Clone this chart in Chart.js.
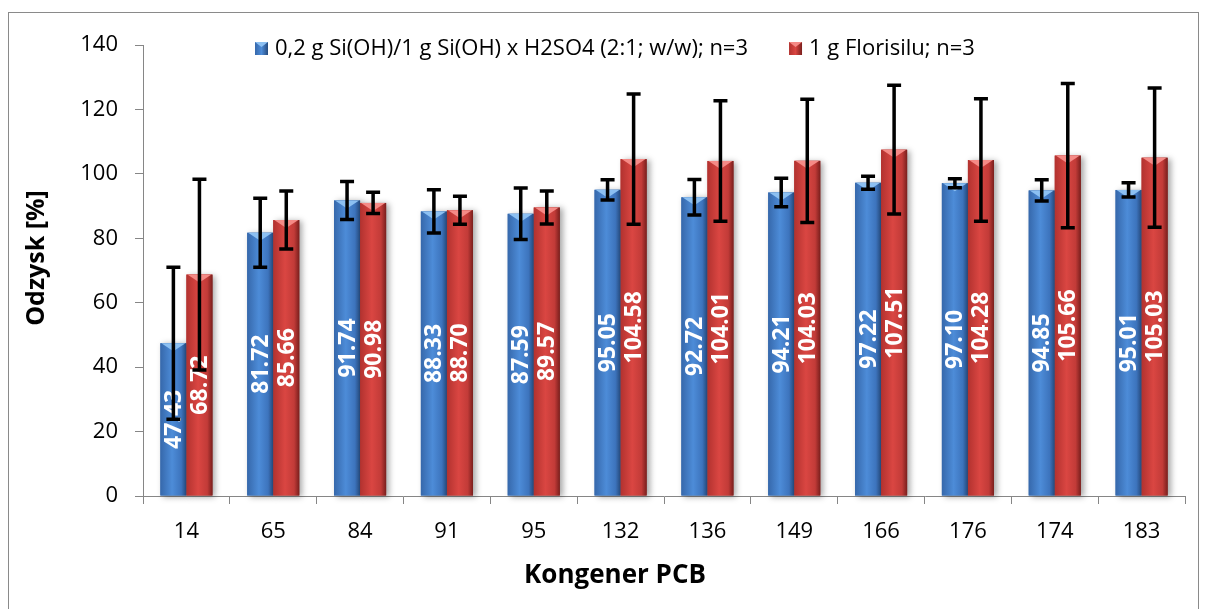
<!DOCTYPE html>
<html>
<head>
<meta charset="utf-8">
<script src="https://cdn.jsdelivr.net/npm/chart.js@4/dist/chart.umd.min.js"></script>
<style>
html,body{margin:0;padding:0;background:#fff;}
#wrap{width:1206px;height:609px;position:relative;}
</style>
</head>
<body>
<div id="wrap"><canvas id="c" width="1206" height="609"></canvas></div>
<script>
const categories = ['14','65','84','91','95','132','136','149','166','176','174','183'];
const seriesNames = ['0,2 g Si(OH)/1 g Si(OH) x H2SO4 (2:1; w/w); n=3', '1 g Florisilu; n=3'];
const blueValues = [47.43, 81.72, 91.74, 88.33, 87.59, 95.05, 92.72, 94.21, 97.22, 97.10, 94.85, 95.01];
const redValues  = [68.72, 85.66, 90.98, 88.70, 89.57, 104.58, 104.01, 104.03, 107.51, 104.28, 105.66, 105.03];
const blueErrors = [23.6, 10.7, 5.9, 6.7, 8.0, 3.15, 5.5, 4.4, 2.0, 1.4, 3.3, 2.2];
const redErrors  = [29.6, 9.0, 3.3, 4.35, 5.1, 20.2, 18.7, 19.1, 20.0, 19.0, 22.4, 21.6];
const yTicks = [0, 20, 40, 60, 80, 100, 120, 140];
const xTitle = 'Kongener PCB';
const yTitle = 'Odzysk [%]';

const FONT = "'Open Sans', 'Noto Sans', sans-serif";
const palettes = [
  {edgeL:'#3668ab', mid:'#4d8cd8', mid2:'#3d74bd', edgeR:'#264b7e', top:'#8cc0f2', base:'#3f78c2'},
  {edgeL:'#b2322f', mid:'#da4642', mid2:'#c23b38', edgeR:'#7a1f1d', top:'#f58a86', base:'#c63a37'}
];
const errorSets = [blueErrors, redErrors];

function barGradient(ctx, x0, x1, p){
  const g = ctx.createLinearGradient(x0, 0, x1, 0);
  g.addColorStop(0, p.edgeL);
  g.addColorStop(0.45, p.mid);
  g.addColorStop(0.8, p.mid2);
  g.addColorStop(1, p.edgeR);
  return g;
}

const decor = {
  id:'decor',
  beforeDraw(chart){
    const ctx = chart.ctx;
    ctx.save();
    ctx.fillStyle = '#fff';
    ctx.fillRect(0,0,chart.width,chart.height);
    ctx.strokeStyle = '#8a8a8a';
    ctx.lineWidth = 1;
    ctx.strokeRect(8.5, 12.5, 1190, 640);
    ctx.restore();
  },
  afterDatasetsDraw(chart){
    const ctx = chart.ctx;
    const y = chart.scales.y;
    chart.data.datasets.forEach((ds, di) => {
      const meta = chart.getDatasetMeta(di);
      const p = palettes[di];
      meta.data.forEach(el => {
        const w = el.width, x0 = el.x - w/2, x1 = el.x + w/2, top = el.y, bot = el.base;
        ctx.save();
        ctx.shadowColor = 'rgba(0,0,0,0.35)';
        ctx.shadowBlur = 6; ctx.shadowOffsetX = 3; ctx.shadowOffsetY = 1;
        ctx.fillStyle = barGradient(ctx, x0, x1, p);
        ctx.fillRect(x0, top, w, bot - top);
        ctx.restore();
        ctx.save();
        ctx.fillStyle = p.top;
        ctx.beginPath();
        ctx.moveTo(x0 + 1, top);
        ctx.lineTo(x1 - 1, top);
        ctx.lineTo(el.x, top + 8);
        ctx.closePath();
        ctx.fill();
        ctx.restore();
      });
    });
    chart.data.datasets.forEach((ds, di) => {
      const meta = chart.getDatasetMeta(di);
      meta.data.forEach((el, i) => {
        ctx.save();
        ctx.translate(el.x + 1, (el.y + el.base)/2);
        ctx.rotate(-Math.PI/2);
        ctx.fillStyle = '#fff';
        ctx.font = "bold 23px " + FONT;
        ctx.textAlign = 'center';
        ctx.textBaseline = 'middle';
        ctx.fillText(ds.data[i].toFixed(2), 0, 0);
        ctx.restore();
      });
    });
    chart.data.datasets.forEach((ds, di) => {
      const meta = chart.getDatasetMeta(di);
      const errs = errorSets[di];
      meta.data.forEach((el, i) => {
        const v = ds.data[i], e = errs[i];
        const yt = y.getPixelForValue(v + e), yb = y.getPixelForValue(v - e);
        ctx.save();
        ctx.strokeStyle = '#000';
        ctx.lineWidth = 3.5;
        ctx.beginPath();
        ctx.moveTo(el.x, yt); ctx.lineTo(el.x, yb);
        ctx.moveTo(el.x - 7, yt); ctx.lineTo(el.x + 7, yt);
        ctx.moveTo(el.x - 7, yb); ctx.lineTo(el.x + 7, yb);
        ctx.stroke();
        ctx.restore();
      });
    });
  },
  afterDraw(chart){
    const ctx = chart.ctx;
    ctx.save();
    ctx.font = "22px " + FONT;
    ctx.textBaseline = 'middle';
    let x = 255;
    const yc = 49;
    chart.data.datasets.forEach((ds, di) => {
      const p = palettes[di];
      const g = ctx.createLinearGradient(x, 0, x + 13, 0);
      g.addColorStop(0, p.edgeL); g.addColorStop(0.5, p.mid); g.addColorStop(1, p.edgeR);
      ctx.fillStyle = g;
      ctx.fillRect(x, yc - 7, 13, 13);
      ctx.fillStyle = p.top;
      ctx.beginPath(); ctx.moveTo(x, yc - 7); ctx.lineTo(x + 13, yc - 7); ctx.lineTo(x + 6.5, yc - 2); ctx.closePath(); ctx.fill();
      ctx.fillStyle = '#000';
      ctx.fillText(ds.label, x + 20, yc);
      x += 20 + ctx.measureText(ds.label).width + 41;
    });
    ctx.font = "bold 26px " + FONT;
    ctx.textAlign = 'center';
    ctx.textBaseline = 'middle';
    ctx.fillText(xTitle, 615, 576);
    ctx.save();
    ctx.translate(37, 258);
    ctx.rotate(-Math.PI/2);
    ctx.font = "bold 25px " + FONT;
    ctx.fillText(yTitle, 0, 0);
    ctx.restore();
    ctx.restore();
  }
};

new Chart(document.getElementById('c'), {
  type: 'bar',
  data: {
    labels: categories,
    datasets: [
      {label: seriesNames[0], data: blueValues, backgroundColor: palettes[0].base, categoryPercentage: 0.6, barPercentage: 1},
      {label: seriesNames[1], data: redValues, backgroundColor: palettes[1].base, categoryPercentage: 0.6, barPercentage: 1}
    ]
  },
  options: {
    responsive: false,
    animation: false,
    layout: {padding: {left: 0, right: 21, top: 45, bottom: 14}},
    plugins: {legend: {display: false}, tooltip: {enabled: false}},
    scales: {
      x: {
        grid: {display: true, drawOnChartArea: false, tickLength: 8, color: '#868686'},
        border: {color: '#868686'},
        ticks: {font: {family: FONT, size: 22}, color: '#000', padding: 15, maxRotation: 0},
        afterFit(s){ s.height = 99; }
      },
      y: {
        min: 0, max: 140,
        afterBuildTicks(s){ s.ticks = yTicks.map(v => ({value: v})); },
        ticks: {font: {family: FONT, size: 22}, color: '#000', padding: 17},
        grid: {display: true, drawOnChartArea: false, tickLength: 8, color: '#868686'},
        border: {color: '#868686'},
        afterFit(s){ s.width = 143; }
      }
    }
  },
  plugins: [decor]
});
</script>
</body>
</html>
